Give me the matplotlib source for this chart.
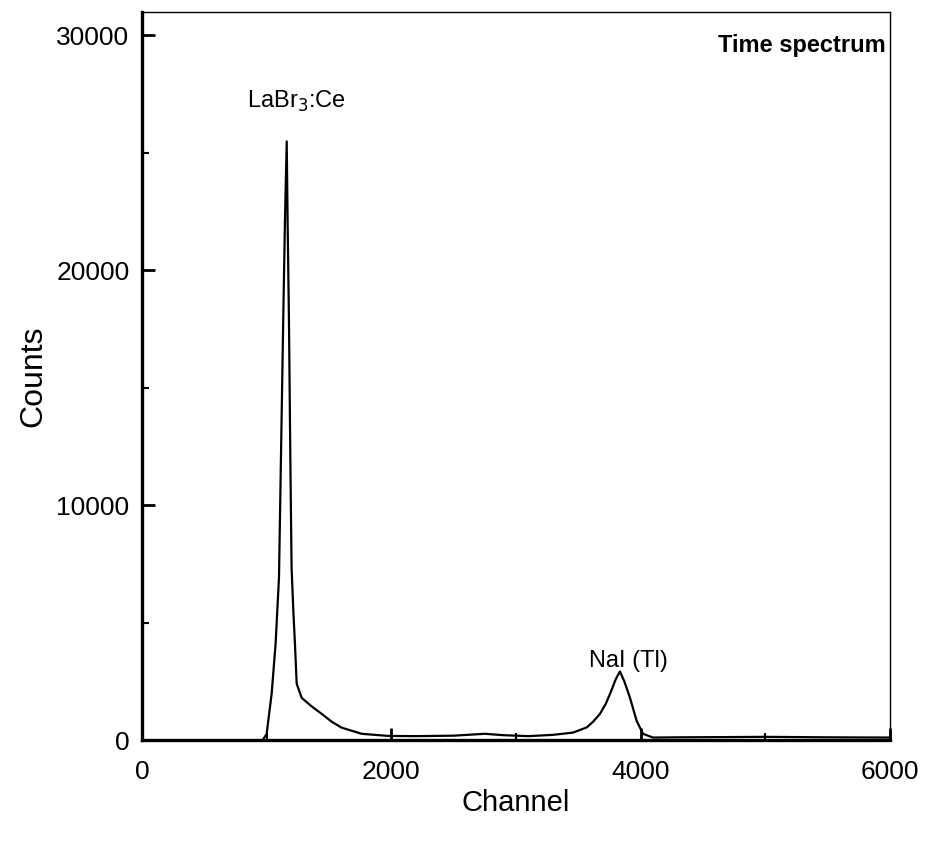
import matplotlib
matplotlib.use("Agg")
from matplotlib import pyplot as plt
from matplotlib.ticker import MultipleLocator

plt.rcParams["font.family"] = ["Liberation Sans", "DejaVu Sans"]

# time spectrum (channel, counts)
channel = [0, 500, 900, 970, 1000, 1040, 1072, 1099, 1133, 1147, 1161,
           1168, 1179, 1190, 1200, 1215, 1227, 1241, 1281, 1360, 1441,
           1520, 1602, 1762, 1973, 2200, 2500, 2750, 2900, 3100, 3297,
           3457, 3567, 3620, 3674, 3720, 3760, 3800, 3834, 3870, 3914,
           3968, 4019, 4099, 4300, 4700, 5000, 5500, 6000]
counts = [0, 0, 0, 20, 277, 1980, 4120, 6930, 17890, 22150, 25490,
          22150, 17890, 12000, 7350, 5400, 4120, 2410, 1810, 1450, 1130,
          800, 540, 280, 190, 180, 200, 280, 220, 180, 235,
          330, 550, 800, 1130, 1550, 2050, 2600, 2930, 2500, 1820,
          830, 280, 120, 130, 140, 150, 130, 120]

peak_labels = ["LaBr$_3$:Ce", "NaI (Tl)"]
peak_pos = [(1240, 26650), (3900, 2900)]

fig = plt.figure(figsize=(9.28, 8.51), dpi=100)
ax = fig.add_axes([0.153, 0.130, 0.806, 0.856])

ax.plot(channel, counts, color="black", lw=1.6)

ax.set_xlim(0, 6000)
ax.set_ylim(0, 31000)
ax.xaxis.set_major_locator(MultipleLocator(2000))
ax.xaxis.set_minor_locator(MultipleLocator(1000))
ax.yaxis.set_major_locator(MultipleLocator(10000))
ax.yaxis.set_minor_locator(MultipleLocator(5000))
ax.tick_params(which="major", direction="in", length=9, width=2,
               labelsize=19)
ax.tick_params(axis="x", which="major", pad=14)
ax.tick_params(axis="y", which="major", pad=9)
ax.tick_params(which="minor", direction="in", length=5, width=1.5)
ax.tick_params(top=False, right=False, which="both")

for side in ["left", "bottom"]:
    ax.spines[side].set_linewidth(2.4)
for side in ["top", "right"]:
    ax.spines[side].set_linewidth(1.0)

ax.set_xlabel("Channel", fontsize=21, labelpad=4)
ax.set_ylabel("Counts", fontsize=23, labelpad=6)

for label, (x, y) in zip(peak_labels, peak_pos):
    ax.text(x, y, label, fontsize=17, ha="center", va="bottom")

ax.text(0.995, 0.97, "Time spectrum", transform=ax.transAxes,
        fontsize=17, ha="right", va="top", fontweight="bold")

fig.savefig("out.png", dpi=100)
